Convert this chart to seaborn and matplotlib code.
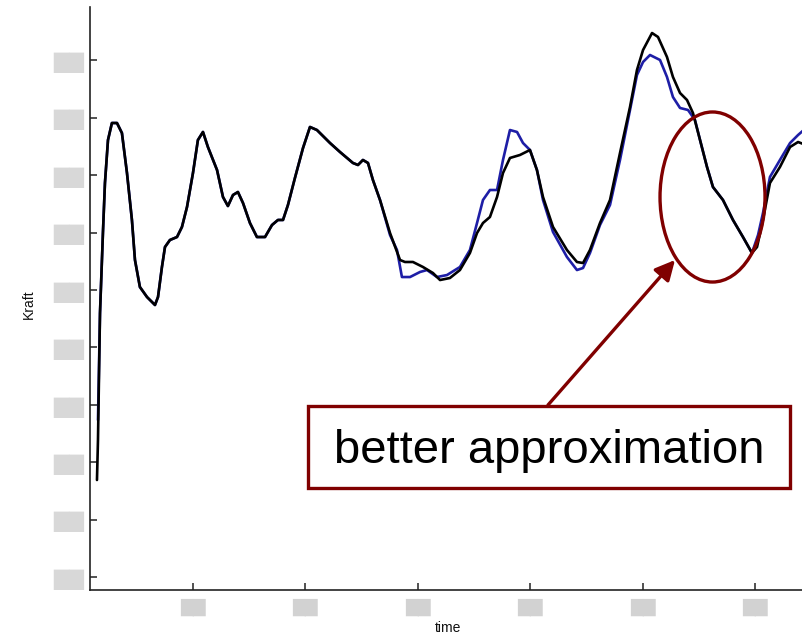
import matplotlib
matplotlib.use("Agg")
import matplotlib.pyplot as plt
from matplotlib.patches import Ellipse, Rectangle
import pandas as pd
import seaborn as sns

# ---- data ----
black_time = [0.146, 0.155, 0.173, 0.199, 0.217, 0.244, 0.279, 0.324, 0.368, 0.413,
              0.457, 0.484, 0.528, 0.591, 0.662, 0.689, 0.724, 0.751, 0.795, 0.858,
              0.902, 0.947, 1.000, 1.044, 1.089, 1.133, 1.214, 1.267, 1.311, 1.356,
              1.400, 1.445, 1.507, 1.569, 1.641, 1.703, 1.756, 1.801, 1.845, 1.907,
              1.979, 2.041, 2.103, 2.219, 2.308, 2.423, 2.468, 2.512, 2.557, 2.601,
              2.664, 2.753, 2.842, 2.886, 2.957, 3.046, 3.135, 3.198, 3.286, 3.375,
              3.464, 3.527, 3.580, 3.642, 3.705, 3.758, 3.820, 3.909, 3.998, 4.060,
              4.114, 4.203, 4.327, 4.416, 4.470, 4.532, 4.621, 4.710, 4.799, 4.888,
              4.950, 5.004, 5.084, 5.137, 5.217, 5.270, 5.333, 5.395, 5.448, 5.511,
              5.573, 5.626, 5.715, 5.804, 5.893, 5.973, 6.018, 6.071, 6.133, 6.222,
              6.312, 6.383, 6.454]
black_force = [2.690, 3.387, 5.599, 6.993, 7.864, 8.613, 8.909, 8.909, 8.735, 8.038,
               7.220, 6.523, 6.052, 5.878, 5.739, 5.878, 6.401, 6.749, 6.871, 6.923,
               7.098, 7.446, 8.038, 8.613, 8.753, 8.491, 8.091, 7.620, 7.463, 7.655,
               7.707, 7.516, 7.167, 6.923, 6.923, 7.132, 7.220, 7.220, 7.481, 7.951,
               8.474, 8.840, 8.787, 8.561, 8.404, 8.213, 8.178, 8.265, 8.213, 7.916,
               7.568, 6.993, 6.523, 6.488, 6.488, 6.401, 6.296, 6.174, 6.209, 6.348,
               6.645, 6.993, 7.167, 7.272, 7.620, 8.038, 8.300, 8.352, 8.439, 8.091,
               7.620, 7.098, 6.697, 6.488, 6.470, 6.697, 7.167, 7.568, 8.387, 9.188,
               9.833, 10.181, 10.477, 10.408, 10.059, 9.711, 9.432, 9.310, 9.084, 8.613,
               8.143, 7.794, 7.568, 7.220, 6.923, 6.645, 6.749, 7.220, 7.864, 8.143,
               8.491, 8.578, 8.526]

blue_time = [0.155, 0.173, 0.199, 0.217, 0.244, 0.279, 0.324, 0.368, 0.413,
             0.457, 0.484, 0.528, 0.591, 0.662, 0.689, 0.724, 0.751, 0.795, 0.858,
             0.902, 0.947, 1.000, 1.044, 1.089, 1.133, 1.214, 1.267, 1.311, 1.356,
             1.400, 1.445, 1.507, 1.569, 1.641, 1.703, 1.756, 1.801, 1.845, 1.907,
             1.979, 2.041, 2.103, 2.219, 2.308, 2.423, 2.468, 2.512, 2.557, 2.601,
             2.664, 2.753, 2.815, 2.859, 2.931, 3.020, 3.082, 3.171, 3.260, 3.375,
             3.464, 3.527, 3.580, 3.642, 3.705, 3.758, 3.820, 3.883, 3.936, 3.998,
             4.060, 4.114, 4.203, 4.327, 4.416, 4.470, 4.532, 4.621, 4.710, 4.799,
             4.888, 4.950, 5.004, 5.066, 5.155, 5.217, 5.270, 5.333, 5.404, 5.466,
             5.511, 5.573, 5.626, 5.715, 5.804, 5.893, 5.973, 6.027, 6.071, 6.133,
             6.222, 6.312, 6.383, 6.454]
blue_force = [3.735, 5.599, 6.993, 7.864, 8.613, 8.909, 8.909, 8.735, 8.038,
              7.220, 6.523, 6.052, 5.878, 5.739, 5.878, 6.401, 6.749, 6.871, 6.923,
              7.098, 7.446, 8.038, 8.613, 8.753, 8.491, 8.091, 7.620, 7.463, 7.655,
              7.707, 7.516, 7.167, 6.923, 6.923, 7.132, 7.220, 7.220, 7.481, 7.951,
              8.474, 8.840, 8.787, 8.561, 8.404, 8.213, 8.178, 8.265, 8.213, 7.916,
              7.568, 6.958, 6.697, 6.226, 6.226, 6.314, 6.348, 6.226, 6.261, 6.401,
              6.697, 7.167, 7.568, 7.742, 7.742, 8.265, 8.787, 8.753, 8.561, 8.439,
              8.091, 7.568, 7.010, 6.575, 6.348, 6.383, 6.645, 7.132, 7.481, 8.265,
              9.136, 9.746, 9.972, 10.094, 10.007, 9.711, 9.362, 9.171, 9.136, 8.962,
              8.613, 8.143, 7.794, 7.568, 7.220, 6.923, 6.645, 6.958, 7.341, 7.969,
              8.265, 8.561, 8.700, 8.822]

x_ticks = [1, 2, 3, 4, 5, 6]
y_ticks = [1, 2, 3, 4, 5, 6, 7, 8, 9, 10]
hidden_label = "\u2588\u2588"   # labels are blurred out in the reference
x_label = "time"
y_label = "Kraft"
annotation_text = "better approximation"

# ---- style ----
sns.set_theme(style="white")
plt.rcParams["font.family"] = ["Liberation Sans", "DejaVu Sans"]

W, H = 803, 639
fig = plt.figure(figsize=(W / 100, H / 100), dpi=100)
fig.patch.set_facecolor("white")
ax = fig.add_axes([90 / W, 49 / H, 713 / W, 583 / H])
ax.set_facecolor("white")

df = pd.concat([
    pd.DataFrame({"time": blue_time, "Kraft": blue_force, "series": "approx"}),
    pd.DataFrame({"time": black_time, "Kraft": black_force, "series": "measured"}),
], ignore_index=True)

sns.lineplot(data=df, x="time", y="Kraft", hue="series",
             hue_order=["approx", "measured"],
             palette={"approx": "#1e1ea6", "measured": "#000000"},
             sort=False, estimator=None, linewidth=1.9, legend=False, ax=ax)

ax.set_xlim(0.084, 6.427)
ax.set_ylim(0.774, 10.930)

for s in ["top", "right"]:
    ax.spines[s].set_visible(False)
for s in ["left", "bottom"]:
    ax.spines[s].set_color("#222222")
    ax.spines[s].set_linewidth(1.2)

ax.set_xticks(x_ticks)
ax.set_yticks(y_ticks)
ax.set_xticklabels([hidden_label] * len(x_ticks), fontsize=12, color="#d2d2d2",
                   family="DejaVu Sans")
ax.set_yticklabels([hidden_label] * len(y_ticks), fontsize=14.5, color="#d8d8d8",
                   family="DejaVu Sans")
ax.tick_params(axis="both", which="major", direction="in", length=5, width=1.1,
               color="#222222", bottom=True, left=True)
ax.tick_params(axis="x", pad=6)
ax.tick_params(axis="y", pad=4)

ax.set_xlabel(x_label, fontsize=10, color="#111111")
ax.set_ylabel(y_label, fontsize=10, color="#111111")
ax.xaxis.set_label_coords((448 - 90) / 713, (590 - 621) / 583)
ax.yaxis.set_label_coords((36 - 90) / 713, 0.49)

# ---- annotation ----
dark_red = "#800000"
ax.add_patch(Ellipse((5.622, 7.620), 0.934, 2.962, fill=False,
                     edgecolor=dark_red, linewidth=2.4, zorder=5))

ax.annotate("", xy=(675 / W, 1 - 260 / H), xycoords="figure fraction",
            xytext=(548 / W, 1 - 405 / H), textcoords="figure fraction",
            arrowprops=dict(arrowstyle="-|>,head_length=0.6,head_width=0.3",
                            color=dark_red, lw=2.4, mutation_scale=20,
                            shrinkA=0, shrinkB=0))

fig.add_artist(Rectangle((308 / W, 1 - 488 / H), 482 / W, 82 / H,
                         transform=fig.transFigure, facecolor="white",
                         edgecolor=dark_red, linewidth=2.4, zorder=6))
fig.text(549 / W, 1 - 463 / H, annotation_text, fontsize=34, ha="center",
         va="baseline", color="black", zorder=7)

fig.savefig("out.png", dpi=100, facecolor="white")
